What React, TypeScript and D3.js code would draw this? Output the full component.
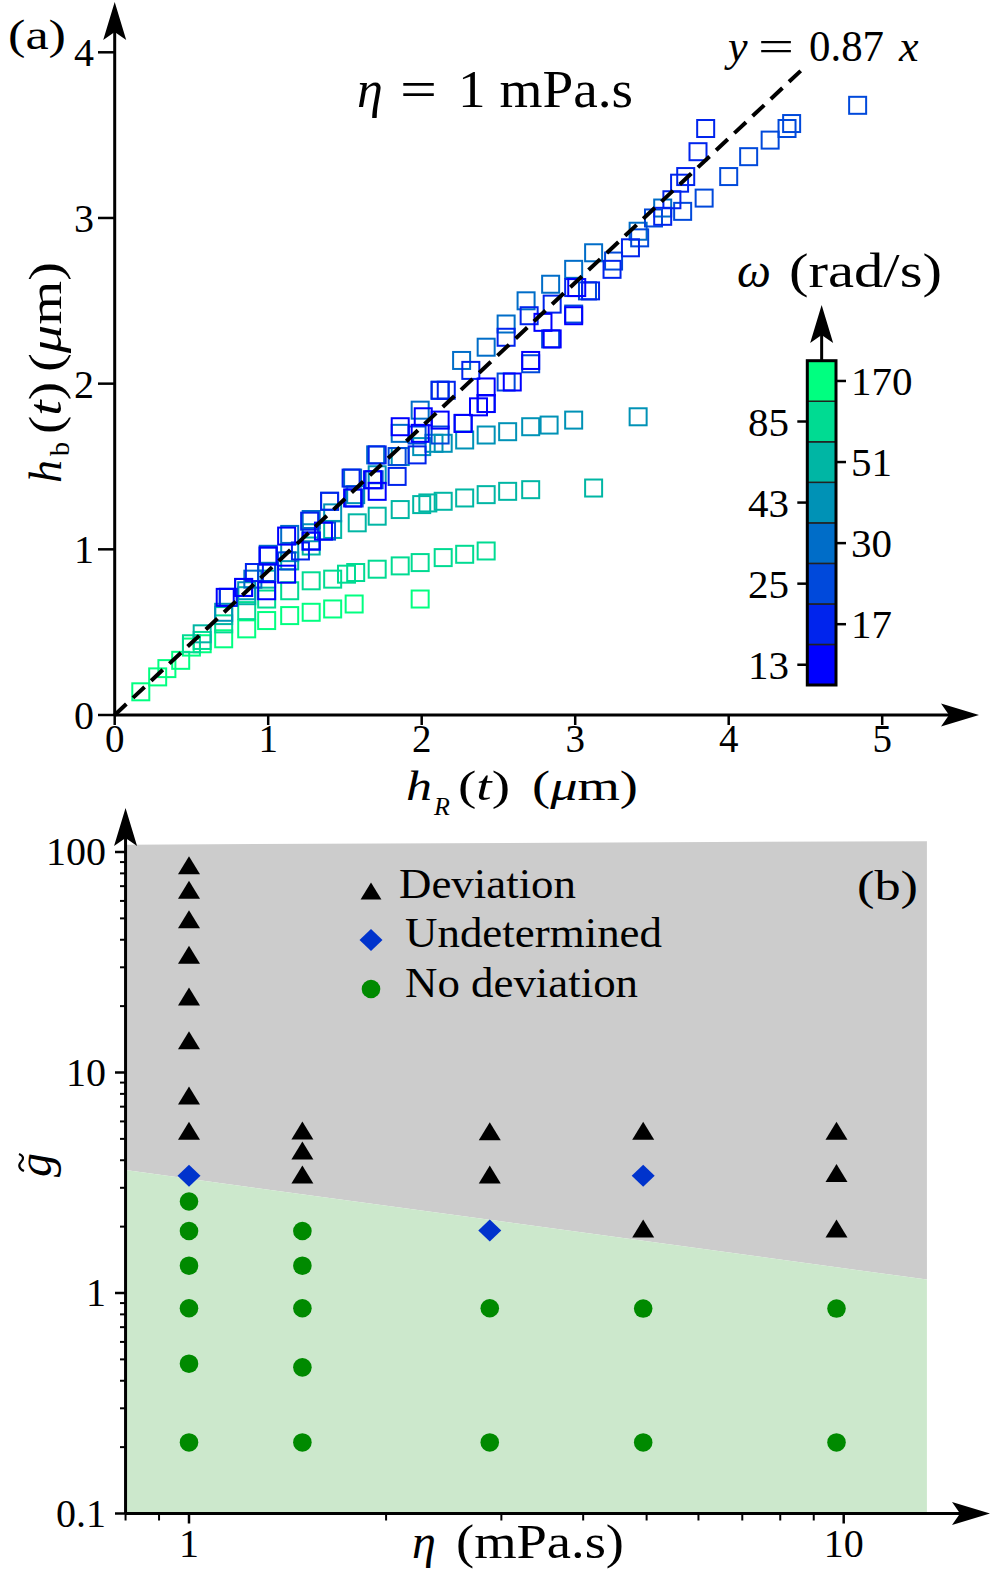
import React from 'react';
import * as d3 from 'd3';

const W = 997;
const H = 1579;
const FONT = "Liberation Serif, Times New Roman, serif";

// ---------- Panel (a) data ----------
const omegaLevels = [13, 17, 25, 30, 43, 51, 85, 170];
const omegaLeftTicks = [85, 43, 25, 13];
const omegaRightTicks = [170, 51, 30, 17];
const hTicksX = [0, 1, 2, 3, 4, 5];
const hTicksY = [0, 1, 2, 3, 4];
const fitSlope = 0.87;
const fitRange = [0, 4.5];

type P = [number, number];
const s13: P[] = [[0.72,0.71],[0.84,0.77],[0.99,0.75],[1.0,0.96],[1.12,0.85],[1.12,1.08],[1.28,1.05],[1.36,1.11],[1.55,1.31],[1.68,1.42],[1.71,1.35],[1.86,1.74],[1.99,1.70],[2.01,1.80],[2.12,1.78],[2.27,1.76],[2.37,1.86],[2.42,1.88],[2.42,1.98],[2.59,2.01],[2.71,2.14],[2.79,2.37],[2.85,2.27],[2.99,2.41],[3.01,2.58]];
const s17: P[] = [[0.74,0.71],[0.91,0.86],[1.0,0.96],[1.21,0.99],[1.27,1.17],[1.40,1.29],[1.54,1.43],[1.71,1.57],[1.84,1.44],[1.97,1.57],[2.12,1.96],[2.16,1.96],[2.32,2.08],[2.55,2.28],[2.70,2.41],[2.85,2.48],[2.99,2.58],[3.10,2.56],[3.24,2.69],[3.36,2.82],[3.57,3.01],[3.63,3.11],[3.68,3.21],[3.72,3.25],[3.80,3.40],[3.85,3.54]];
const s25: P[] = [[0.84,0.77],[0.99,0.86],[1.12,0.93],[1.28,1.05],[1.38,1.11],[1.56,1.31],[1.69,1.42],[1.84,1.56],[1.97,1.69],[2.12,1.69],[2.27,1.76],[2.42,1.88],[2.55,2.01],[2.71,2.12],[2.84,2.27],[2.99,2.42],[3.08,2.56],[3.25,2.74],[3.42,2.88],[3.51,3.0],[3.70,3.04],[3.84,3.12],[4.0,3.25],[4.13,3.37],[4.27,3.47],[4.38,3.54],[4.41,3.57],[4.84,3.68]];
const s30: P[] = [[0.74,0.71],[0.90,0.82],[1.0,0.97],[1.14,1.09],[1.28,1.18],[1.40,1.29],[1.55,1.43],[1.70,1.57],[1.86,1.70],[1.99,1.84],[2.12,1.96],[2.26,2.14],[2.42,2.22],[2.55,2.36],[2.68,2.50],[2.84,2.60],[2.99,2.69],[3.12,2.79],[3.41,2.92],[3.57,3.06]];
const s43: P[] = [[0.71,0.62],[0.86,0.75],[0.99,0.86],[1.14,0.98],[1.28,1.10],[1.42,1.22],[1.57,1.33],[1.71,1.45],[1.86,1.56],[2.0,1.62],[2.08,1.64],[2.14,1.64],[2.28,1.66],[2.42,1.69],[2.56,1.71],[2.71,1.74],[2.83,1.75],[2.99,1.78],[3.41,1.80]];
const s51: P[] = [[0.57,0.49],[0.71,0.60],[0.86,0.72],[0.99,0.82],[1.14,0.93],[1.28,1.02],[1.42,1.12],[1.58,1.16],[1.71,1.20],[1.86,1.24],[2.0,1.27],[2.04,1.28],[2.14,1.29],[2.28,1.31],[2.42,1.33],[2.56,1.35],[2.71,1.36],[3.12,1.37]];
const s85: P[] = [[0.50,0.43],[0.57,0.45],[0.71,0.55],[0.86,0.63],[0.99,0.70],[1.14,0.75],[1.28,0.81],[1.42,0.82],[1.51,0.85],[1.57,0.86],[1.71,0.88],[1.86,0.90],[1.99,0.92],[2.14,0.95],[2.28,0.97],[2.42,0.99]];
const s170: P[] = [[0.17,0.14],[0.28,0.23],[0.34,0.28],[0.43,0.33],[0.50,0.41],[0.57,0.43],[0.71,0.46],[0.86,0.52],[0.99,0.57],[1.14,0.60],[1.28,0.62],[1.42,0.64],[1.56,0.67],[1.99,0.70]];
const seriesA: { omega: number; pts: P[] }[] = [
  { omega: 170, pts: s170 },
  { omega: 85, pts: s85 },
  { omega: 51, pts: s51 },
  { omega: 43, pts: s43 },
  { omega: 30, pts: s30 },
  { omega: 25, pts: s25 },
  { omega: 17, pts: s17 },
  { omega: 13, pts: s13 },
];

// ---------- Panel (b) data ----------
const gTickLabels = [0.1, 1, 10, 100];
const etaTickLabels = [1, 10];
const deviation: P[] = [[1,87],[1,67.4],[1,49.6],[1,34.2],[1,22.1],[1,14],[1,7.87],[1,5.44],[1.49,5.45],[1.49,4.43],[1.49,3.45],[2.88,5.42],[2.88,3.45],[4.94,5.44],[4.94,1.96],[9.75,5.44],[9.75,3.5],[9.75,1.96]];
const undetermined: P[] = [[1,3.40],[2.88,1.92],[4.94,3.40]];
const noDeviation: P[] = [[1,2.60],[1,1.91],[1,1.33],[1,0.853],[1,0.478],[1,0.21],[1.49,1.91],[1.49,1.33],[1.49,0.853],[1.49,0.46],[1.49,0.21],[2.88,0.853],[2.88,0.21],[4.94,0.85],[4.94,0.21],[9.75,0.85],[9.75,0.21]];
const regionEta = [0.8, 13.4];
const regionTop = [108, 112];
const regionBoundary = [3.61, 1.15];
const regionBottom = 0.1;

const winter = (t: number) => d3.rgb(0, Math.round(255 * t), Math.round(255 - 127.5 * t)).formatHex();
const omegaColor = (w: number) => winter(omegaLevels.indexOf(w) / (omegaLevels.length - 1));

const ARROW = 'M0,0 L-11.5,38 L0,30 L11.5,38 Z';
const TRI = 'M0,-9 L11,9 L-11,9 Z';
const DIAM = 'M0,-11 L11.5,0 L0,11 L-11.5,0 Z';
const GREEN = '#008a00';
const BLUE_D = '#0033cc';

export default function App() {
  // panel (a) scales
  const xA = d3.scaleLinear().domain([0, 5]).range([114.7, 882.2]);
  const yA = d3.scaleLinear().domain([0, 4]).range([715, 52.3]);
  // panel (b) scales
  const xB = d3.scaleLog().domain([1, 10]).range([189, 843.7]);
  const yB = d3.scaleLog().domain([0.1, 100]).range([1513.5, 852]);

  const sq = 17;

  // colorbar
  const cbX = 807.3, cbW = 28.7, cbTop = 360.7, cbBot = 685;
  const cbY = d3.scaleBand<number>().domain([...omegaLevels].reverse()).range([cbTop, cbBot]).paddingInner(0);

  const fitLine = d3.line<number>().x((v) => xA(v)).y((v) => yA(fitSlope * v));

  // regions in panel (b)
  const grayPoly = [
    [xB(regionEta[0]), yB(regionTop[0])],
    [xB(regionEta[1]), yB(regionTop[1])],
    [xB(regionEta[1]), yB(regionBoundary[1])],
    [xB(regionEta[0]), yB(regionBoundary[0])],
  ];
  const greenPoly = [
    [xB(regionEta[0]), yB(regionBoundary[0])],
    [xB(regionEta[1]), yB(regionBoundary[1])],
    [xB(regionEta[1]), yB(regionBottom)],
    [xB(regionEta[0]), yB(regionBottom)],
  ];
  const poly = (pts: number[][]) => 'M' + pts.map((p) => p.join(',')).join('L') + 'Z';

  // log minor ticks
  const yMinor: number[] = [];
  [0.1, 1, 10].forEach((d) => { for (let k = 2; k <= 9; k++) yMinor.push(d * k); });
  const xMinor: number[] = [0.8, 0.9];
  for (let k = 2; k <= 9; k++) xMinor.push(k);

  const axisY0A = yA(0);
  const axisX0A = xA(0);
  const axisX0B = xB(0.8);
  const axisY0B = yB(0.1);

  return (
    <svg width={W} height={H} viewBox={`0 0 ${W} ${H}`} style={{ position: 'absolute', left: 0, top: 0, background: '#fff' }} fontFamily={FONT}>
      <rect x={0} y={0} width={W} height={H} fill="#fff" />

      {/* ================= Panel (a) ================= */}
      <g fill="none" strokeWidth={2}>
        {seriesA.map((s) => (
          <g key={s.omega} stroke={omegaColor(s.omega)}>
            {s.pts.map((p, i) => (
              <rect key={i} x={xA(p[0]) - sq / 2} y={yA(p[1]) - sq / 2} width={sq} height={sq} />
            ))}
          </g>
        ))}
      </g>
      <path d={fitLine(fitRange) || ''} stroke="#000" strokeWidth={4} strokeDasharray="16,9" fill="none" />

      {/* axes */}
      <line x1={axisX0A} x2={axisX0A} y1={axisY0A} y2={20} stroke="#000" strokeWidth={3} />
      <line x1={axisX0A} x2={960} y1={axisY0A} y2={axisY0A} stroke="#000" strokeWidth={3} />
      <path d={ARROW} transform={`translate(${axisX0A},2)`} fill="#000" />
      <path d={ARROW} transform={`translate(979,${axisY0A}) rotate(90)`} fill="#000" />
      {hTicksX.map((t) => (
        <g key={'xa' + t}>
          <line x1={xA(t)} x2={xA(t)} y1={axisY0A} y2={axisY0A + 10} stroke="#000" strokeWidth={2.5} />
          <text x={xA(t)} y={752} fontSize={39} textAnchor="middle">{t}</text>
        </g>
      ))}
      {hTicksY.map((t) => (
        <g key={'ya' + t}>
          <line x1={98} x2={axisX0A} y1={yA(t)} y2={yA(t)} stroke="#000" strokeWidth={2.5} />
          <text x={94} y={yA(t) + 14} fontSize={40} textAnchor="end">{t}</text>
        </g>
      ))}

      {/* axis labels (a) */}
      <text x={406} y={800} fontSize={42} fontStyle="italic" textLength={26} lengthAdjust="spacingAndGlyphs">h</text>
      <text x={434} y={815} fontSize={26} fontStyle="italic">R</text>
      <text x={458} y={800} fontSize={42} textLength={52} lengthAdjust="spacingAndGlyphs">(<tspan fontStyle="italic">t</tspan>)</text>
      <text x={532} y={800} fontSize={42} textLength={106} lengthAdjust="spacingAndGlyphs">(<tspan fontStyle="italic">μ</tspan>m)</text>

      <g transform="translate(61,483) rotate(-90)">
        <text x={0} y={0} fontSize={46} fontStyle="italic">h</text>
      </g>
      <g transform="translate(69,456) rotate(-90)">
        <text x={0} y={0} fontSize={28}>b</text>
      </g>
      <g transform="translate(61,434) rotate(-90)">
        <text x={0} y={0} fontSize={46} textLength={52} lengthAdjust="spacingAndGlyphs">(<tspan fontStyle="italic">t</tspan>)</text>
      </g>
      <g transform="translate(61,372) rotate(-90)">
        <text x={0} y={0} fontSize={46} textLength={110} lengthAdjust="spacingAndGlyphs">(<tspan fontStyle="italic">μ</tspan>m)</text>
      </g>

      <text x={8} y={49} fontSize={42} textLength={58} lengthAdjust="spacingAndGlyphs">(a)</text>

      <text x={357} y={107} fontSize={52} fontStyle="italic">η</text>
      <text x={400} y={107} fontSize={52} textLength={37} lengthAdjust="spacingAndGlyphs">=</text>
      <text x={458} y={107} fontSize={52} textLength={175} lengthAdjust="spacingAndGlyphs">1 mPa.s</text>

      <text x={728} y={61} fontSize={44} fontStyle="italic">y</text>
      <text x={758} y={61} fontSize={44} textLength={36} lengthAdjust="spacingAndGlyphs">=</text>
      <text x={809} y={61} fontSize={44} textLength={75} lengthAdjust="spacingAndGlyphs">0.87</text>
      <text x={899} y={61} fontSize={44} fontStyle="italic">x</text>

      {/* colorbar */}
      <text x={737} y={287} fontSize={48} fontStyle="italic">ω</text>
      <text x={789} y={287} fontSize={48} textLength={153} lengthAdjust="spacingAndGlyphs">(rad/s)</text>
      <line x1={cbX + cbW / 2} x2={cbX + cbW / 2} y1={cbTop} y2={330} stroke="#000" strokeWidth={3} />
      <path d={ARROW} transform={`translate(${cbX + cbW / 2},305)`} fill="#000" />
      {omegaLevels.map((w) => (
        <rect key={'cb' + w} x={cbX} y={cbY(w)} width={cbW} height={cbY.bandwidth()} fill={omegaColor(w)} stroke="#222" strokeWidth={1.5} />
      ))}
      <rect x={cbX} y={cbTop} width={cbW} height={cbBot - cbTop} fill="none" stroke="#000" strokeWidth={3} />
      {omegaRightTicks.map((w) => {
        const y = (cbY(w) as number) + cbY.bandwidth() / 2;
        return (
          <g key={'rt' + w}>
            <line x1={cbX + cbW} x2={cbX + cbW + 10} y1={y} y2={y} stroke="#000" strokeWidth={2.5} />
            <text x={851} y={y + 14} fontSize={41}>{w}</text>
          </g>
        );
      })}
      {omegaLeftTicks.map((w) => {
        const y = (cbY(w) as number) + cbY.bandwidth() / 2;
        return (
          <g key={'lt' + w}>
            <line x1={cbX - 10} x2={cbX} y1={y} y2={y} stroke="#000" strokeWidth={2.5} />
            <text x={789} y={y + 14} fontSize={41} textAnchor="end">{w}</text>
          </g>
        );
      })}

      {/* ================= Panel (b) ================= */}
      <path d={poly(grayPoly)} fill="#cccccc" />
      <path d={poly(greenPoly)} fill="#cce8cc" />

      {noDeviation.map((p, i) => (
        <circle key={'nd' + i} cx={xB(p[0])} cy={yB(p[1])} r={9.3} fill={GREEN} />
      ))}
      {undetermined.map((p, i) => (
        <path key={'un' + i} d={DIAM} transform={`translate(${xB(p[0])},${yB(p[1])})`} fill={BLUE_D} />
      ))}
      {deviation.map((p, i) => (
        <path key={'dv' + i} d={TRI} transform={`translate(${xB(p[0])},${yB(p[1])})`} fill="#000" />
      ))}

      {/* legend */}
      <path d={TRI} transform="translate(371,891) scale(0.95)" fill="#000" />
      <text x={399} y={898} fontSize={42} textLength={177} lengthAdjust="spacingAndGlyphs">Deviation</text>
      <path d={DIAM} transform="translate(371,940)" fill={BLUE_D} />
      <text x={405} y={947} fontSize={42} textLength={257} lengthAdjust="spacingAndGlyphs">Undetermined</text>
      <circle cx={371} cy={989} r={9.3} fill={GREEN} />
      <text x={405} y={997} fontSize={42} textLength={233} lengthAdjust="spacingAndGlyphs">No deviation</text>
      <text x={857} y={900} fontSize={42} textLength={61} lengthAdjust="spacingAndGlyphs">(b)</text>

      {/* axes (b) */}
      <line x1={axisX0B} x2={axisX0B} y1={axisY0B} y2={825} stroke="#000" strokeWidth={3} />
      <line x1={axisX0B} x2={970} y1={axisY0B} y2={axisY0B} stroke="#000" strokeWidth={3} />
      <path d={ARROW} transform={`translate(${axisX0B},808)`} fill="#000" />
      <path d={ARROW} transform={`translate(990,${axisY0B}) rotate(90)`} fill="#000" />
      {gTickLabels.map((t) => (
        <g key={'gy' + t}>
          <line x1={115} x2={axisX0B} y1={yB(t)} y2={yB(t)} stroke="#000" strokeWidth={2.5} />
          <text x={106} y={yB(t) + 13} fontSize={40} textAnchor="end">{t}</text>
        </g>
      ))}
      {yMinor.map((t) => (
        <line key={'gm' + t} x1={120} x2={axisX0B} y1={yB(t)} y2={yB(t)} stroke="#000" strokeWidth={2} />
      ))}
      {etaTickLabels.map((t) => (
        <g key={'ex' + t}>
          <line x1={xB(t)} x2={xB(t)} y1={axisY0B} y2={axisY0B + 10} stroke="#000" strokeWidth={2.5} />
          <text x={xB(t)} y={1557} fontSize={40} textAnchor="middle">{t}</text>
        </g>
      ))}
      {xMinor.map((t) => (
        <line key={'em' + t} x1={xB(t)} x2={xB(t)} y1={axisY0B} y2={axisY0B + 7} stroke="#000" strokeWidth={2} />
      ))}

      <text x={412} y={1558} fontSize={48} fontStyle="italic">η</text>
      <text x={456} y={1558} fontSize={48} textLength={168} lengthAdjust="spacingAndGlyphs">(mPa.s)</text>

      <g transform="translate(51,1165) rotate(-90)">
        <text x={0} y={0} fontSize={48} fontStyle="italic" textAnchor="middle">g</text>
        <path d="M-6,-27 C-4,-32 0,-33 3,-30 C6,-27 9,-27 11,-32" fill="none" stroke="#000" strokeWidth={2.2} />
      </g>
    </svg>
  );
}
